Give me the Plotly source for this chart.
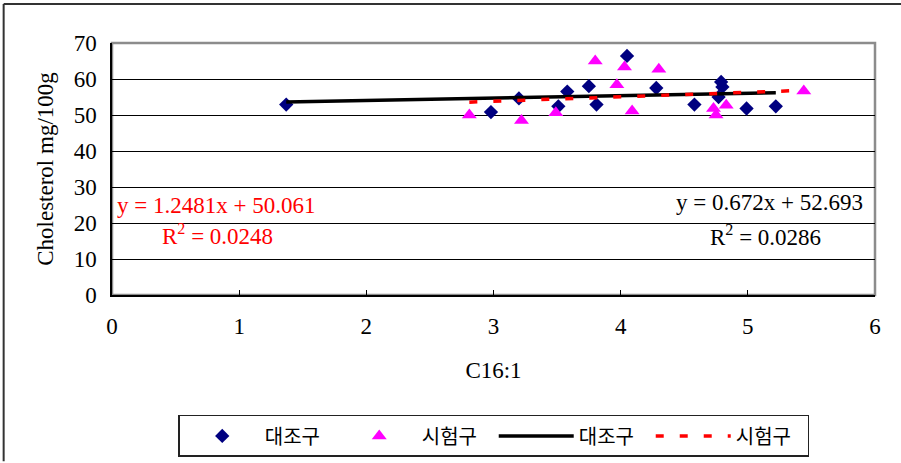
import plotly.graph_objects as go

# C16:1 content vs. cholesterol, control group (대조구)
control_x = [1.37, 2.98, 3.20, 3.51, 3.58, 3.75, 3.81, 4.05, 4.28, 4.58, 4.79, 4.80, 4.77, 4.99, 5.22]
control_y = [52.9, 50.8, 54.6, 52.4, 56.5, 58.0, 52.9, 66.4, 57.5, 52.9, 59.2, 57.8, 55.0, 51.8, 52.4]

# treatment group (시험구)
test_x = [2.81, 3.22, 3.49, 3.80, 3.97, 4.03, 4.09, 4.30, 4.73, 4.75, 4.83, 5.44]
test_y = [50.0, 48.5, 50.6, 65.0, 58.4, 63.3, 51.1, 62.7, 51.8, 50.0, 52.7, 56.7]

# linear trend fits
control_slope, control_intercept, control_r2 = 0.672, 52.693, 0.0286
test_slope, test_intercept, test_r2 = 1.2481, 50.061, 0.0248

x_ticks = [0, 1, 2, 3, 4, 5, 6]
y_ticks = [0, 10, 20, 30, 40, 50, 60, 70]

SERIF = "Liberation Serif, Times New Roman, serif"
KR = "Noto Sans CJK KR, sans-serif"


def trend(xs, slope, intercept):
    x0, x1 = min(xs), max(xs)
    return [x0, x1], [slope * x0 + intercept, slope * x1 + intercept]


cx, cy = trend(control_x, control_slope, control_intercept)
tx, ty = trend(test_x, test_slope, test_intercept)

fig = go.Figure()
fig.add_trace(go.Scatter(
    x=control_x, y=control_y, mode="markers", name="대조구",
    marker=dict(symbol="diamond", size=11, color="#000080"),
))
fig.add_trace(go.Scatter(
    x=test_x, y=test_y, mode="markers", name="시험구",
    marker=dict(symbol="triangle-up", size=13, color="#FF00FF"),
))
fig.add_trace(go.Scatter(
    x=cx, y=cy, mode="lines", name="대조구",
    line=dict(color="black", width=3.5),
))
fig.add_trace(go.Scatter(
    x=tx, y=ty, mode="lines", name="시험구",
    line=dict(color="#FF0000", width=3.5, dash="8px,16px"),
))

fig.add_annotation(
    x=0.82, y=25.0, xref="x", yref="y", showarrow=False,
    text=f"y = {test_slope}x + {test_intercept:.3f}",
    font=dict(family=SERIF, size=23, color="#FF0000"),
)
fig.add_annotation(
    x=0.83, y=16.9, xref="x", yref="y", showarrow=False,
    text=f"R<sup>2</sup> = {test_r2}",
    font=dict(family=SERIF, size=23, color="#FF0000"),
)
fig.add_annotation(
    x=5.17, y=25.8, xref="x", yref="y", showarrow=False,
    text=f"y = {control_slope}x + {control_intercept}",
    font=dict(family=SERIF, size=23, color="black"),
)
fig.add_annotation(
    x=5.14, y=16.4, xref="x", yref="y", showarrow=False,
    text=f"R<sup>2</sup> = {control_r2}",
    font=dict(family=SERIF, size=23, color="black"),
)

# plot-area frame (grey) and the outer chart border on the left/top
fig.add_shape(type="rect", xref="paper", yref="paper", x0=0, x1=1, y0=0, y1=1,
              line=dict(color="#8c8c8c", width=2.5), layer="below")
fig.add_shape(type="line", xref="paper", yref="paper", x0=-0.142, x1=-0.142, y0=-0.66, y1=1.155,
              line=dict(color="#333333", width=2))
fig.add_shape(type="line", xref="paper", yref="paper", x0=-0.142, x1=1.04, y0=1.155, y1=1.155,
              line=dict(color="#333333", width=2))

fig.update_layout(
    width=901, height=463,
    margin=dict(l=111.7, r=25.5, t=42.5, b=167.5, autoexpand=False),
    paper_bgcolor="white", plot_bgcolor="white",
    showlegend=True,
    legend=dict(
        orientation="h", x=0.0868, xanchor="left", y=-0.476, yanchor="top",
        bordercolor="#222222", borderwidth=1.5,
        font=dict(family=KR, size=20, color="black"),
        entrywidth=67, itemwidth=75,
    ),
    xaxis=dict(
        range=[0, 6], tickvals=x_ticks, showgrid=False, zeroline=False,
        showline=True, linecolor="black", linewidth=1.5, automargin=False,
        ticks="inside", ticklen=5, tickcolor="black",
        ticklabelstandoff=10,
        tickfont=dict(family=SERIF, size=23, color="black"),
        title=dict(text="C16:1", font=dict(family=SERIF, size=23, color="black"), standoff=24),
    ),
    yaxis=dict(
        range=[0, 70], tickvals=y_ticks, showgrid=True, gridcolor="black", gridwidth=1,
        zeroline=False, showline=True, linecolor="black", linewidth=1.5, automargin=False,
        ticks="inside", ticklen=5, tickcolor="black",
        ticklabelstandoff=9,
        tickfont=dict(family=SERIF, size=23, color="black"),
        title=dict(text="Cholesterol mg/100g", font=dict(family=SERIF, size=23, color="black"), standoff=14),
    ),
)

fig.write_html("out.html")
